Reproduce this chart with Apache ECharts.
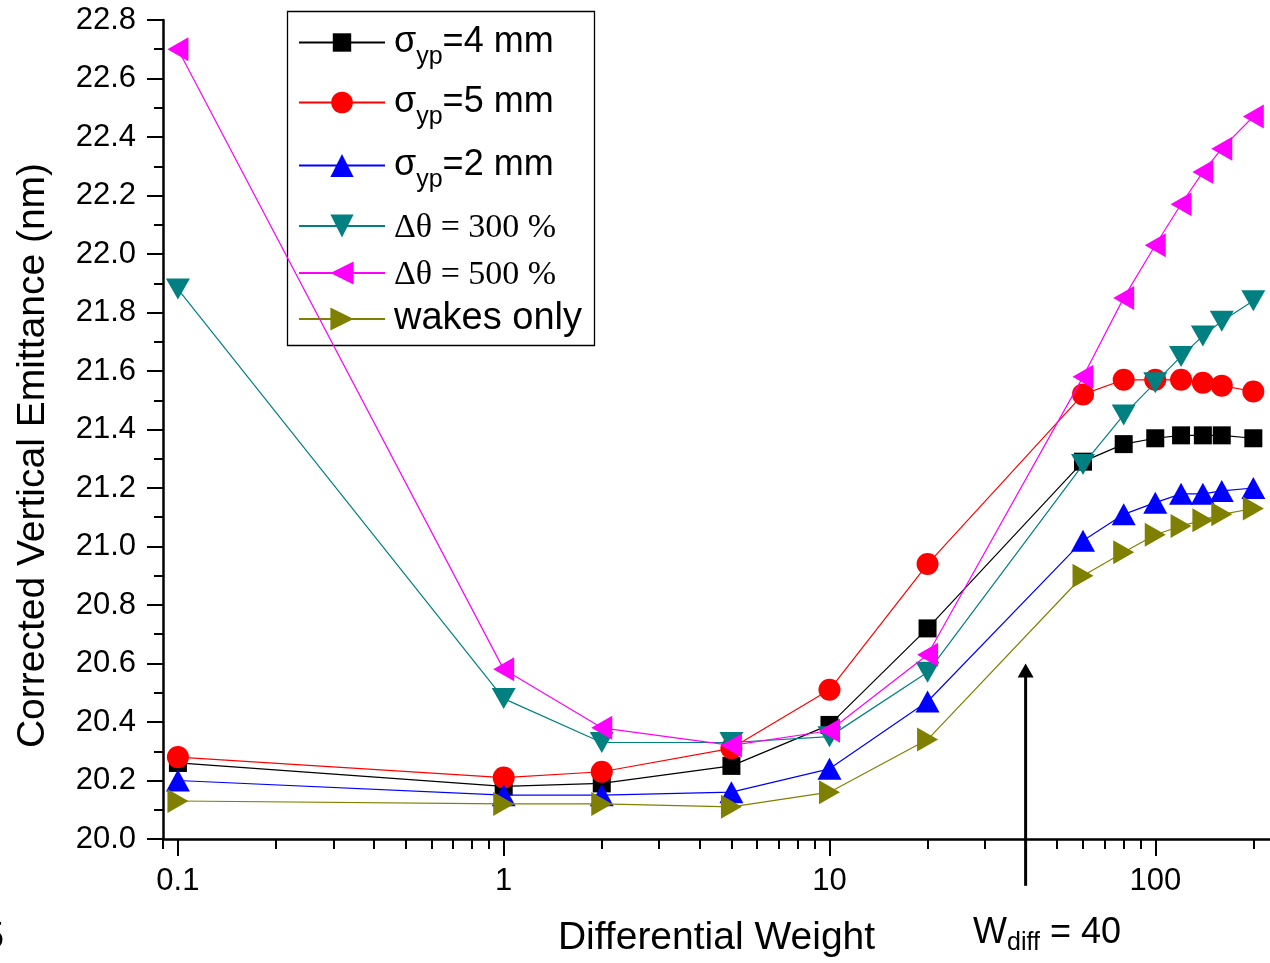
<!DOCTYPE html>
<html>
<head>
<meta charset="utf-8">
<script src="https://cdn.jsdelivr.net/npm/echarts@6/dist/echarts.min.js"></script>
<style>
  html, body { margin: 0; padding: 0; background: #fff; }
  #chart { width: 1270px; height: 963px; }
</style>
</head>
<body>
<div id="chart"></div>
<script>
// ── data ─────────────────────────────────────────────────
const weights  = [0.1, 1, 2, 5, 10, 20, 60, 80, 100, 120, 140, 160, 200];
const sigma4   = [20.26, 20.18, 20.19, 20.25, 20.39, 20.72, 21.29, 21.35, 21.37, 21.38, 21.38, 21.38, 21.37];
const sigma5   = [20.28, 20.21, 20.23, 20.31, 20.51, 20.94, 21.52, 21.57, 21.57, 21.57, 21.56, 21.55, 21.53];
const sigma2   = [20.20, 20.15, 20.15, 20.16, 20.24, 20.47, 21.02, 21.11, 21.15, 21.18, 21.18, 21.19, 21.20];
const theta300 = [21.88, 20.48, 20.33, 20.33, 20.35, 20.57, 21.28, 21.45, 21.56, 21.65, 21.72, 21.77, 21.84];
const theta500 = [22.70, 20.58, 20.38, 20.32, 20.37, 20.63, 21.58, 21.85, 22.03, 22.17, 22.28, 22.36, 22.47];
const wakes    = [20.13, 20.12, 20.12, 20.11, 20.16, 20.34, 20.90, 20.98, 21.04, 21.07, 21.09, 21.11, 21.13];

const seriesNames  = ['σyp=4 mm', 'σyp=5 mm', 'σyp=2 mm', 'Δθ = 300 %', 'Δθ = 500 %', 'wakes only'];
const legendLabels = ['{g|σ}{sub|yp}{g2|=4 mm}', '{g|σ}{sub|yp}{g2|=5 mm}', '{g|σ}{sub|yp}{g2|=2 mm}',
                      '{t|Δθ = 300 %}', '{t|Δθ = 500 %}', '{w|wakes only}'];
const colors       = ['#000000', '#ff0000', '#0000ff', '#008080', '#ff00ff', '#808000'];
const symbols      = ['rect', 'circle', 'triangle', 'triangle', 'triangle', 'triangle'];
const rotations    = [0, 0, 0, 180, 90, -90];
const allValues    = [sigma4, sigma5, sigma2, theta300, theta500, wakes];

const xMajorTicks = [0.1, 1, 10, 100];
const xMinorTicks = [0.09, 0.2, 0.3, 0.4, 0.5, 0.6, 0.7, 0.8, 0.9,
                     2, 3, 4, 5, 6, 7, 8, 9, 20, 30, 40, 50, 60, 70, 80, 90, 200];
const arrowAt = 40;   // W_diff

// ── chart ───────────────────────────────────────────────
const chart = echarts.init(document.getElementById('chart'), null, { renderer: 'canvas' });

const FONT = 'Liberation Sans, Arial, sans-serif';
const SERIF = 'Liberation Serif, Times New Roman, serif';
const blackLine = { color: '#000', width: 2 };

// symbol sizes / legend placement (pixels, not data)
const symbolSizes = [18, 22, [24, 22], [24, 21], [24, 21], [24, 21]];
const legendLineY = [43, 103, 166, 227, 274, 322];
const legendBlock = [56, 56, 56, 40, 40, 44];
const legendIconH = [23, 27, 29, 29, 29, 29];

const series = seriesNames.map((name, i) => ({
  name,
  type: 'line',
  xAxisIndex: 0,
  yAxisIndex: 0,
  data: weights.map((w, k) => [w, allValues[i][k]]),
  symbol: symbols[i],
  symbolSize: symbolSizes[i],
  symbolRotate: rotations[i],
  showAllSymbol: true,
  color: colors[i],
  lineStyle: { color: colors[i], width: 1.2 },
  itemStyle: { color: colors[i] },
  emphasis: { disabled: true },
  z: 2 + i,
}));

const legendRich = {
  g:   { fontFamily: FONT, fontSize: 36, lineHeight: 56, color: '#000', padding: [0, 0, 0, 4] },
  g2:  { fontFamily: FONT, fontSize: 36, lineHeight: 56, color: '#000' },
  sub: { fontFamily: FONT, fontSize: 25, lineHeight: 26, color: '#000', padding: [30, 0, 0, 0] },
  t:   { fontFamily: SERIF, fontSize: 34, lineHeight: 40, color: '#000', padding: [4, 0, 0, 4] },
  w:   { fontFamily: FONT, fontSize: 38, lineHeight: 44, color: '#000', padding: [0, 0, 0, 4] },
};

const legends = seriesNames.map((name, i) => ({
  data: [name],
  left: 298,
  top: legendLineY[i] - legendBlock[i] / 2,
  orient: 'vertical',
  padding: 0,
  itemWidth: 86,
  itemHeight: legendIconH[i],
  selectedMode: false,
  formatter: () => legendLabels[i],
  textStyle: { rich: legendRich },
}));

const option = {
  animation: false,
  backgroundColor: '#fff',
  textStyle: { fontFamily: FONT, color: '#000' },
  grid: { left: 163, right: 0, top: 20, bottom: 123, containLabel: false },
  legend: legends,
  xAxis: [
    {
      type: 'log',
      logBase: 10,
      min: 0.09,
      max: 225,
      position: 'bottom',
      name: 'Differential Weight',
      nameLocation: 'middle',
      nameGap: 80,
      nameTextStyle: { fontFamily: FONT, fontSize: 39, color: '#000' },
      axisLine: { show: true, lineStyle: { color: '#000', width: 2.5 } },
      axisTick: { show: true, length: 17, customValues: xMajorTicks, lineStyle: blackLine },
      axisLabel: {
        show: true, customValues: xMajorTicks, margin: 27,
        fontFamily: FONT, fontSize: 31, color: '#000',
        formatter: v => String(+Number(v).toPrecision(6)),
      },
      splitLine: { show: false },
      minorTick: { show: false },
    },
    {
      // minor ticks of the log axis
      type: 'log',
      logBase: 10,
      min: 0.09,
      max: 225,
      position: 'bottom',
      axisLine: { show: false },
      axisTick: { show: true, length: 10, customValues: xMinorTicks, lineStyle: blackLine },
      axisLabel: { show: false },
      splitLine: { show: false },
    },
  ],
  yAxis: {
    type: 'value',
    min: 20,
    max: 22.8,
    interval: 0.2,
    name: 'Corrected Vertical Emittance (nm)',
    nameLocation: 'middle',
    nameGap: 110,
    nameTextStyle: { fontFamily: FONT, fontSize: 39, color: '#000', padding: [0, 52, 0, 0] },
    axisLine: { show: true, lineStyle: { color: '#000', width: 2.5 } },
    axisTick: { show: true, length: 16, lineStyle: blackLine },
    minorTick: { show: true, splitNumber: 2, length: 9, lineStyle: blackLine },
    axisLabel: {
      margin: 27, fontFamily: FONT, fontSize: 31, color: '#000',
      formatter: v => v.toFixed(1),
    },
    splitLine: { show: false },
  },
  series,
};

chart.setOption(option);

// ── annotations: legend frame, W_diff arrow, stray glyph ──
const tail = chart.convertToPixel({ xAxisIndex: 0, yAxisIndex: 0 }, [arrowAt, 19.84]);
const tip  = chart.convertToPixel({ xAxisIndex: 0, yAxisIndex: 0 }, [arrowAt, 20.6]);
const headH = 14, headW = 8;

chart.setOption({
  graphic: [
    {
      type: 'rect',
      shape: { x: 287.5, y: 11.5, width: 307, height: 334 },
      style: { fill: 'none', stroke: '#000', lineWidth: 1.3 },
      z: 1,
    },
    {
      type: 'line',
      shape: { x1: tail[0], y1: tail[1], x2: tip[0], y2: tip[1] + headH - 1 },
      style: { stroke: '#000', lineWidth: 3 },
      z: 20,
    },
    {
      type: 'polygon',
      shape: { points: [[tip[0], tip[1]], [tip[0] - headW, tip[1] + headH], [tip[0] + headW, tip[1] + headH]] },
      style: { fill: '#000' },
      z: 20,
    },
    {
      type: 'text',
      x: 973,
      y: 910,
      style: {
        text: '{a|W}{b|diff}{a| = 40}',
        rich: {
          a: { fontFamily: FONT, fontSize: 36, lineHeight: 46, fill: '#000' },
          b: { fontFamily: FONT, fontSize: 25, lineHeight: 26, fill: '#000', padding: [20, 0, 0, 0] },
        },
      },
      z: 20,
    },
    {
      type: 'text',
      x: -16,
      y: 920,
      style: { text: '5', fontFamily: FONT, fontSize: 36, fill: '#000' },
      z: 20,
    },
  ],
});
</script>
</body>
</html>
